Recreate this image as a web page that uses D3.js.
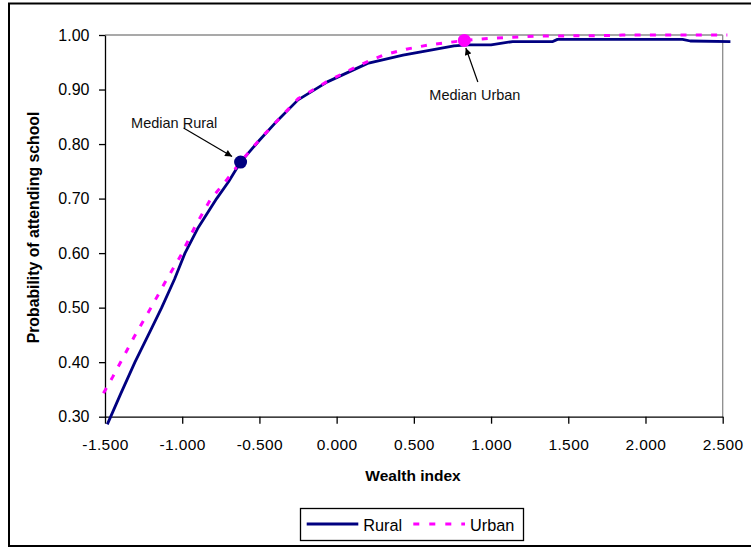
<!DOCTYPE html>
<html><head><meta charset="utf-8">
<script src="https://cdn.jsdelivr.net/npm/d3@7/dist/d3.min.js"></script>
<style>
body{margin:0;background:#fff;}
svg{display:block;font-family:"Liberation Sans",Arial,sans-serif;}
</style></head>
<body><svg id="c" width="751" height="548"></svg>
<script>
// ---- data ----
const ruralWealth = [-1.485, -1.40, -1.306, -1.20, -1.133, -1.05, -0.982, -0.90, -0.777, -0.70, -0.622, -0.50, -0.40, -0.25, -0.06, 0.20, 0.43, 0.60, 0.76, 0.85, 1.00, 1.14, 1.40, 1.43, 2.24, 2.29, 2.55];
const ruralProb   = [0.286, 0.341, 0.400, 0.461, 0.500, 0.552, 0.600, 0.645, 0.700, 0.731, 0.767, 0.807, 0.838, 0.881, 0.914, 0.948, 0.963, 0.972, 0.980, 0.982, 0.982, 0.988, 0.988, 0.992, 0.992, 0.989, 0.988];
const urbanWealth = [-1.51, -1.45, -1.31, -1.198, -1.10, -1.012, -0.92, -0.82, -0.71, -0.62, -0.50, -0.25, -0.06, 0.15, 0.30, 0.45, 0.60, 0.83, 1.00, 1.30, 1.80, 1.85, 2.20, 2.53];
const urbanProb   = [0.343, 0.373, 0.447, 0.502, 0.552, 0.594, 0.647, 0.697, 0.735, 0.768, 0.808, 0.883, 0.915, 0.945, 0.963, 0.974, 0.982, 0.990, 0.994, 0.998, 0.999, 1.000, 1.000, 1.000];
const medianRural = [-0.622, 0.767];
const medianUrban = [0.827, 0.990];
const xTicks = [-1.5, -1.0, -0.5, 0.0, 0.5, 1.0, 1.5, 2.0, 2.5];
const yTicks = [0.3, 0.4, 0.5, 0.6, 0.7, 0.8, 0.9, 1.0];
const seriesNames = ["Rural", "Urban"];
const xTitle = "Wealth index";
const yTitle = "Probability of attending school";

const svg = d3.select("#c");
const L = 105, R = 722.7, T = 35, B = 416.7;
const x = d3.scaleLinear().domain([-1.5, 2.5]).range([L, R]);
const y = d3.scaleLinear().domain([0.3, 1.0]).range([B, T]);

// outer border
svg.append("rect").attr("x", 9).attr("y", 3.5).attr("width", 760).attr("height", 542.5)
  .attr("fill", "none").attr("stroke", "#000").attr("stroke-width", 2);

// plot frame (gray top & right)
svg.append("line").attr("x1", L).attr("x2", R).attr("y1", T).attr("y2", T).attr("stroke", "#8c8c8c").attr("stroke-width", 1.3);
svg.append("line").attr("x1", R).attr("x2", R).attr("y1", T).attr("y2", B).attr("stroke", "#8c8c8c").attr("stroke-width", 1.3);

// axes
const yAxis = svg.append("g").attr("transform", `translate(${L},0)`)
  .call(d3.axisLeft(y).tickValues(yTicks).tickFormat(d => d.toFixed(2)).tickSize(6).tickSizeOuter(0).tickPadding(9.5));
const xAxis = svg.append("g").attr("transform", `translate(0,${B})`)
  .call(d3.axisBottom(x).tickValues(xTicks).tickFormat(d => d.toFixed(3)).tickSize(7).tickSizeOuter(0).tickPadding(15));
[yAxis, xAxis].forEach(g => {
  g.selectAll("path,line").attr("stroke", "#000").attr("stroke-width", 1.3);
  g.selectAll("text").attr("fill", "#000").style("font-size", "16px").style("font-family", '"Liberation Sans",Arial,sans-serif');
});
xAxis.selectAll("text").style("font-size", "15.5px").style("letter-spacing", "0.4px");

// titles
svg.append("text").attr("x", 413).attr("y", 481).attr("text-anchor", "middle")
  .style("font-size", "15.5px").style("font-weight", "bold").text(xTitle);
svg.append("text").attr("transform", "translate(38.5,227.5) rotate(-90)").attr("text-anchor", "middle")
  .style("font-size", "15.8px").style("font-weight", "bold").text(yTitle);

// lines
const line = d3.line().x(d => x(d[0])).y(d => y(d[1]));
const rural = ruralWealth.map((w, i) => [w, ruralProb[i]]);
const urban = urbanWealth.map((w, i) => [w, urbanProb[i]]);
svg.append("path").attr("d", line(rural)).attr("fill", "none").attr("stroke", "#000080").attr("stroke-width", 2.8).attr("stroke-linejoin", "round");
svg.append("path").attr("d", line(urban)).attr("fill", "none").attr("stroke", "#FF00FF").attr("stroke-width", 3).attr("stroke-dasharray", "6,9.3");

// markers
svg.append("circle").attr("cx", x(medianRural[0])).attr("cy", y(medianRural[1])).attr("r", 6.5).attr("fill", "#000080");
svg.append("circle").attr("cx", x(medianUrban[0])).attr("cy", y(medianUrban[1])).attr("r", 6.5).attr("fill", "#FF00FF");

// arrow marker
svg.append("defs").append("marker").attr("id", "ah").attr("viewBox", "0 0 10 10")
  .attr("refX", 10).attr("refY", 5).attr("markerWidth", 9).attr("markerHeight", 7).attr("markerUnits", "userSpaceOnUse")
  .attr("orient", "auto").append("path").attr("d", "M0,0L10,5L0,10z").attr("fill", "#000");

// annotations
const rx = x(medianRural[0]), ry = y(medianRural[1]);
svg.append("line").attr("x1", rx - 57).attr("y1", ry - 34).attr("x2", rx - 8.5).attr("y2", ry - 5.5)
  .attr("stroke", "#000").attr("stroke-width", 1.2).attr("marker-end", "url(#ah)");
svg.append("text").attr("x", rx - 109.5).attr("y", ry - 34.5).style("font-size", "14.5px").attr("fill", "#111").text("Median Rural");

const ux = x(medianUrban[0]), uy = y(medianUrban[1]);
svg.append("line").attr("x1", ux + 13.5).attr("y1", uy + 41.5).attr("x2", ux + 1.5).attr("y2", uy + 7.5)
  .attr("stroke", "#000").attr("stroke-width", 1.2).attr("marker-end", "url(#ah)");
svg.append("text").attr("x", ux - 35).attr("y", uy + 59.5).style("font-size", "14.5px").attr("fill", "#111").text("Median Urban");

// legend
const lg = svg.append("g");
lg.append("rect").attr("x", 300.5).attr("y", 508.5).attr("width", 223).attr("height", 32).attr("fill", "#fff").attr("stroke", "#000").attr("stroke-width", 1.3);
lg.append("line").attr("x1", 306.7).attr("x2", 358.3).attr("y1", 524).attr("y2", 524).attr("stroke", "#000080").attr("stroke-width", 3);
lg.append("text").attr("x", 363.3).attr("y", 530.5).style("font-size", "16.3px").text(seriesNames[0]);
lg.append("line").attr("x1", 413.3).attr("x2", 465).attr("y1", 524).attr("y2", 524).attr("stroke", "#FF00FF").attr("stroke-width", 3).attr("stroke-dasharray", "6,10");
lg.append("text").attr("x", 470).attr("y", 530.5).style("font-size", "16.3px").text(seriesNames[1]);
</script></body></html>
